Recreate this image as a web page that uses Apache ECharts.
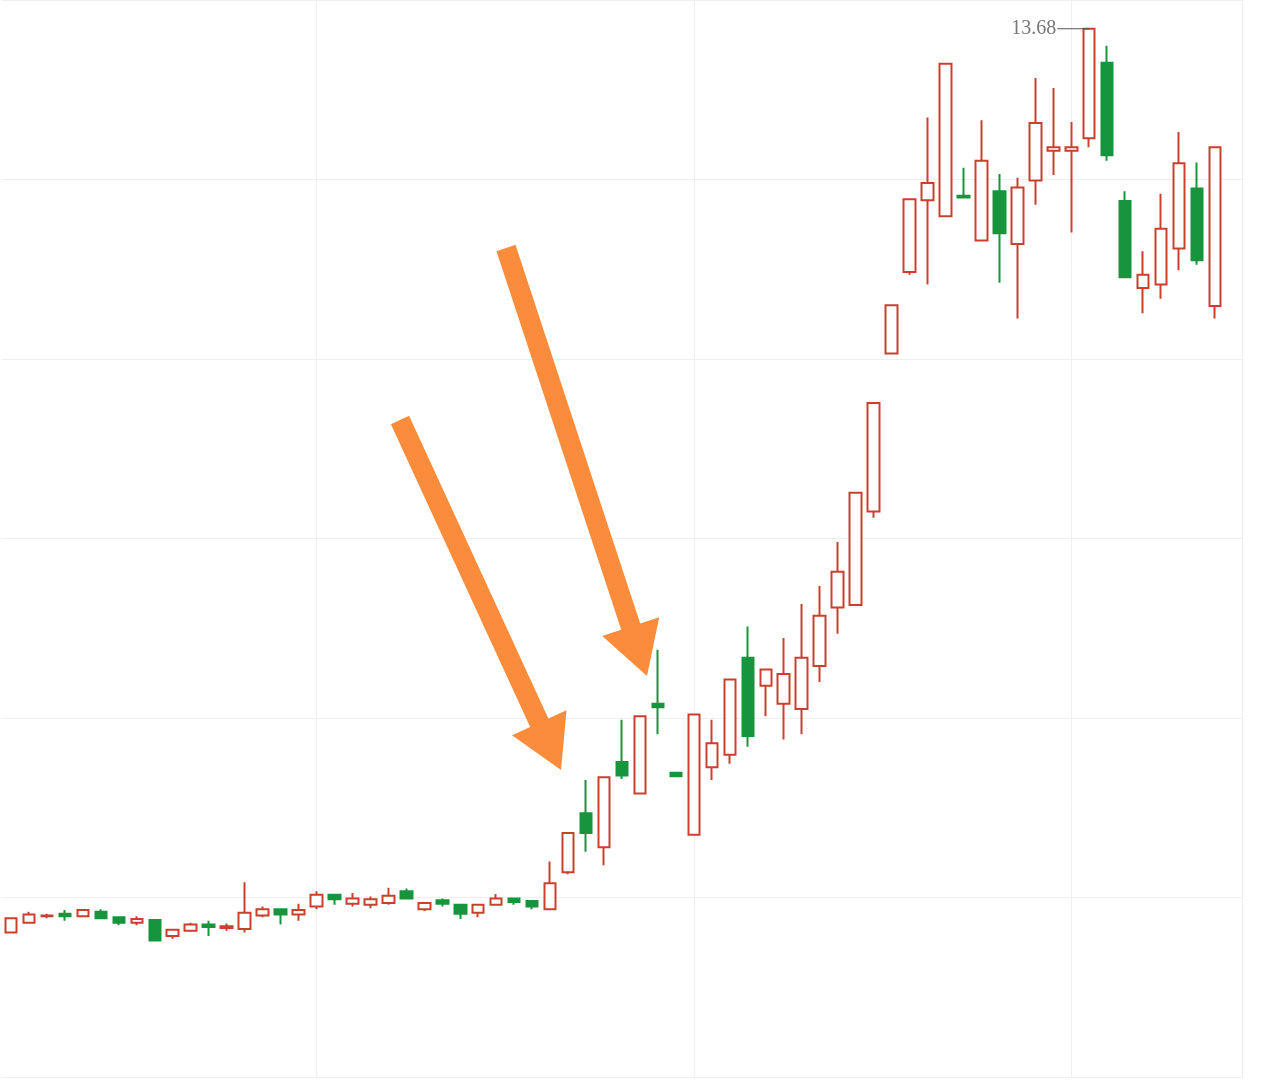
<!DOCTYPE html>
<html>
<head>
<meta charset="utf-8">
<script src="https://cdn.jsdelivr.net/npm/echarts@6/dist/echarts.min.js"></script>
<style>
  html, body { margin: 0; padding: 0; background: #ffffff; }
  #chart { width: 1262px; height: 1084px; }
</style>
</head>
<body>
<div id="chart"></div>
<script>
// ---- data ----
const categories = [
  'd01','d02','d03','d04','d05','d06','d07','d08','d09','d10',
  'd11','d12','d13','d14','d15','d16','d17','d18','d19','d20',
  'd21','d22','d23','d24','d25','d26','d27','d28','d29','d30',
  'd31','d32','d33','d34','d35','d36','d37','d38','d39','d40',
  'd41','d42','d43','d44','d45','d46','d47','d48','d49','d50',
  'd51','d52','d53','d54','d55','d56','d57','d58','d59','d60',
  'd61','d62','d63','d64','d65','d66','d67','d68','d69'
];
const openVals = [
  3.61,3.72,3.79,3.82,3.79,3.84,3.78,3.72,3.75,3.57,
  3.63,3.70,3.66,3.65,3.80,3.87,3.81,3.90,4.03,3.93,
  3.92,3.94,4.07,3.87,3.97,3.92,3.83,3.92,3.99,3.96,
  3.87,4.28,4.94,4.56,5.51,5.16,6.16,5.39,4.70,5.45,
  5.59,6.67,6.36,6.16,6.10,6.58,7.23,7.26,8.30,10.06,
  10.97,11.77,11.59,11.82,11.32,11.87,11.28,11.99,12.32,12.32,
  12.46,13.30,11.76,10.79,10.83,11.23,11.90,10.59
];
const closeVals = [
  3.77,3.81,3.80,3.79,3.86,3.77,3.72,3.76,3.52,3.64,
  3.70,3.67,3.68,3.83,3.87,3.81,3.86,4.03,3.98,3.99,
  3.98,4.02,3.99,3.94,3.93,3.82,3.92,3.99,3.95,3.90,
  4.16,4.72,4.72,5.34,5.36,6.02,6.12,5.35,6.04,5.72,
  6.43,5.80,6.54,6.49,6.67,7.14,7.63,8.51,9.51,10.60,
  11.78,11.96,13.29,11.80,12.21,11.40,11.91,12.63,12.36,12.36,
  13.68,12.27,10.91,10.94,11.45,12.18,11.10,12.36
];
const lowVals = [
  3.61,3.72,3.77,3.74,3.78,3.77,3.69,3.69,3.52,3.54,
  3.63,3.57,3.63,3.61,3.78,3.70,3.74,3.87,3.92,3.90,
  3.88,3.92,3.99,3.85,3.90,3.76,3.78,3.92,3.92,3.87,
  3.87,4.26,4.51,4.36,5.32,5.16,5.82,5.35,4.70,5.31,
  5.49,5.68,6.02,5.76,5.82,6.40,6.94,7.26,8.23,10.06,
  10.94,10.83,11.59,11.80,11.32,10.85,10.45,11.72,12.05,11.41,
  12.36,12.21,10.91,10.51,10.67,10.99,11.05,10.45
];
const highVals = [
  3.77,3.84,3.82,3.86,3.87,3.87,3.78,3.79,3.76,3.64,
  3.72,3.74,3.71,4.17,3.90,3.87,3.93,4.07,4.03,4.05,
  4.01,4.11,4.10,3.94,3.99,3.92,3.92,4.04,4.00,3.96,
  4.40,4.72,5.31,5.34,5.98,6.02,6.76,5.39,6.04,5.98,
  6.43,7.02,6.54,6.89,7.27,7.47,7.96,8.51,9.51,10.60,
  11.78,12.69,13.29,12.13,12.66,12.06,12.02,13.13,13.02,12.64,
  13.68,13.49,11.87,11.20,11.84,12.53,12.19,12.36
];
const maxIndex = 60;
const maxValue = 13.68;
const gridCategoryIdx = [17, 38, 59];

// ---- build ----
const kData = openVals.map((o, i) => [o, closeVals[i], lowVals[i], highVals[i]]);

const UP = '#c9402e';
const DOWN = '#17953c';
const ARROW = '#fa8c3c';

function arrowPoints(sx, sy, tx, ty, shaftW, headW, headL) {
  const dx = tx - sx, dy = ty - sy;
  const L = Math.sqrt(dx * dx + dy * dy);
  const ux = dx / L, uy = dy / L;
  const nx = -uy, ny = ux;
  const bx = tx - ux * headL, by = ty - uy * headL;
  return [
    [sx + nx * shaftW / 2, sy + ny * shaftW / 2],
    [bx + nx * shaftW / 2, by + ny * shaftW / 2],
    [bx + nx * headW / 2, by + ny * headW / 2],
    [tx, ty],
    [bx - nx * headW / 2, by - ny * headW / 2],
    [bx - nx * shaftW / 2, by - ny * shaftW / 2],
    [sx - nx * shaftW / 2, sy - ny * shaftW / 2]
  ];
}

const chart = echarts.init(document.getElementById('chart'), null, { renderer: 'canvas' });
chart.setOption({
  animation: false,
  backgroundColor: '#ffffff',
  grid: { left: 2, right: 20, top: -3, bottom: 7, containLabel: false },
  xAxis: {
    type: 'category',
    data: categories,
    boundaryGap: true,
    axisLine: { show: false },
    axisTick: { show: false },
    axisLabel: { show: false },
    splitLine: { show: false }
  },
  yAxis: {
    type: 'value',
    position: 'right',
    min: 2,
    max: 14,
    interval: 2,
    axisLine: { show: true, lineStyle: { color: '#ececec', width: 1 } },
    axisTick: { show: false },
    axisLabel: { show: false },
    splitLine: { show: true, lineStyle: { color: '#efefef', width: 1 } }
  },
  series: [{
    type: 'candlestick',
    data: kData,
    barWidth: 12,
    itemStyle: {
      color: '#ffffff',
      color0: DOWN,
      borderColor: UP,
      borderColor0: DOWN,
      borderWidth: 2
    },
    markLine: {
      silent: true,
      z: 1,
      symbol: ['none', 'none'],
      label: { show: false },
      lineStyle: { color: '#efefef', type: 'solid', width: 1 },
      emphasis: { disabled: true },
      data: gridCategoryIdx.map(i => ({ xAxis: categories[i] }))
    },
    markPoint: {
      silent: true,
      symbol: 'rect',
      symbolSize: [32, 1],
      symbolOffset: [-16, 0],
      itemStyle: { color: '#555555' },
      label: {
        show: true,
        position: 'left',
        distance: 1,
        color: '#777777',
        fontFamily: 'Liberation Serif',
        fontSize: 20,
        formatter: '{c}'
      },
      data: [{ coord: [categories[maxIndex], maxValue], value: maxValue }]
    }
  }],
  graphic: [
    { type: 'polygon', z: 100, shape: { points: arrowPoints(400, 420, 561, 770, 20, 60, 52) }, style: { fill: ARROW } },
    { type: 'polygon', z: 100, shape: { points: arrowPoints(506, 248, 647, 676, 20, 60, 52) }, style: { fill: ARROW } }
  ]
});
</script>
</body>
</html>
